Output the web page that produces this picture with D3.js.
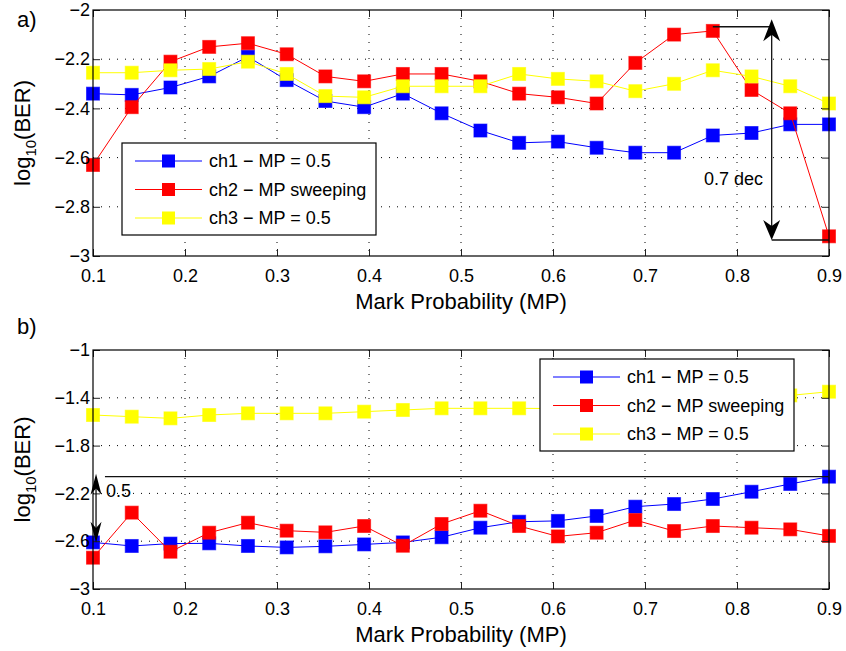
<!DOCTYPE html>
<html>
<head>
<meta charset="utf-8">
<script src="https://cdn.jsdelivr.net/npm/d3@7"></script>
<style>
	body { margin: 0; background: #fff; }
	svg { font-family: "Liberation Sans", Arial, Helvetica, sans-serif; display: block; }
</style>
</head>
<body>
<div id="wrapper"></div>
<script>
// mark probability of the 20 measurement points
const markProb = [0.1, 0.1421, 0.1842, 0.2263, 0.2684, 0.3105, 0.3526, 0.3947, 0.4368, 0.4789,
	0.5211, 0.5632, 0.6053, 0.6474, 0.6895, 0.7316, 0.7737, 0.8158, 0.8579, 0.9];

// panel a)
const aCh1 = [-2.34, -2.345, -2.315, -2.27, -2.19, -2.285, -2.37, -2.395, -2.34, -2.42,
	-2.49, -2.54, -2.535, -2.56, -2.58, -2.58, -2.51, -2.50, -2.465, -2.465];
const aCh2 = [-2.63, -2.395, -2.21, -2.15, -2.135, -2.18, -2.27, -2.29, -2.26, -2.26,
	-2.29, -2.34, -2.355, -2.38, -2.215, -2.10, -2.085, -2.325, -2.42, -2.92];
const aCh3 = [-2.255, -2.255, -2.245, -2.24, -2.21, -2.26, -2.35, -2.355, -2.31, -2.31,
	-2.31, -2.26, -2.28, -2.29, -2.33, -2.30, -2.245, -2.27, -2.31, -2.38];

// panel b)
const bCh1 = [-2.61, -2.64, -2.62, -2.618, -2.64, -2.652, -2.643, -2.627, -2.61, -2.567,
	-2.487, -2.437, -2.43, -2.389, -2.311, -2.289, -2.247, -2.186, -2.121, -2.06];
const bCh2 = [-2.738, -2.361, -2.688, -2.529, -2.445, -2.512, -2.526, -2.473, -2.638, -2.456,
	-2.345, -2.473, -2.56, -2.529, -2.423, -2.515, -2.473, -2.487, -2.501, -2.556];
const bCh3 = [-1.544, -1.558, -1.572, -1.544, -1.53, -1.53, -1.53, -1.516, -1.502, -1.488,
	-1.488, -1.488, -1.49, -1.48, -1.47, -1.45, -1.43, -1.41, -1.38, -1.349];

const xTicks = [0.1, 0.2, 0.3, 0.4, 0.5, 0.6, 0.7, 0.8, 0.9];
const aYTicks = [-3, -2.8, -2.6, -2.4, -2.2, -2];
const bYTicks = [-3, -2.6, -2.2, -1.8, -1.4, -1];
const seriesNames = ['ch1 \u2212 MP = 0.5', 'ch2 \u2212 MP sweeping', 'ch3 \u2212 MP = 0.5'];
const seriesColors = ['#0000ff', '#ff0000', '#ffff00'];

(() => {
	const width = 846, height = 651;
	const left = 93, right = 829;
	const svg = d3.select('#wrapper').append('svg')
		.attr('width', width)
		.attr('height', height);

	const fmt = d3.format('~g');
	const x = d3.scaleLinear().domain([0.1, 0.9]).range([left, right]);

	// MATLAB style notched arrow head, tip at (0,0) pointing up
	const arrowHead = (g, cx, cy, dir, w, len) => {
		const notch = len * 0.3;
		g.append('path')
			.attr('d', `M0,0 L${w / 2},${len} L0,${len - notch} L${-w / 2},${len} Z`)
			.attr('transform', `translate(${cx},${cy}) rotate(${dir === 'up' ? 0 : 180})`)
			.attr('fill', '#000');
	};

	const drawPanel = (cfg) => {
		const y = d3.scaleLinear().domain(cfg.yDomain).range([cfg.bottom, cfg.top]);
		const g = svg.append('g');

		// dotted grid
		g.selectAll('.vgrid')
			.data(xTicks.slice(1, -1))
			.enter().append('line')
			.attr('x1', (d) => x(d)).attr('x2', (d) => x(d))
			.attr('y1', cfg.top).attr('y2', cfg.bottom)
			.attr('stroke', '#000').attr('stroke-width', 1)
			.attr('stroke-dasharray', '1,7');
		g.selectAll('.hgrid')
			.data(cfg.yTicks.slice(1, -1))
			.enter().append('line')
			.attr('x1', left).attr('x2', right)
			.attr('y1', (d) => y(d)).attr('y2', (d) => y(d))
			.attr('stroke', '#000').attr('stroke-width', 1)
			.attr('stroke-dasharray', '1,7');

		// series: line then markers, drawn one after the other
		const line = d3.line().x((d, i) => x(markProb[i])).y((d) => y(d));
		cfg.series.forEach((values, s) => {
			g.append('path')
				.datum(values)
				.attr('d', line)
				.attr('fill', 'none')
				.attr('stroke', seriesColors[s])
				.attr('stroke-width', 1);
			g.selectAll('.m' + s)
				.data(values)
				.enter().append('rect')
				.attr('x', (d, i) => x(markProb[i]) - 6.5)
				.attr('y', (d) => y(d) - 6.5)
				.attr('width', 13).attr('height', 13)
				.attr('fill', seriesColors[s])
				.attr('stroke', seriesColors[s])
				.attr('stroke-opacity', 0.6)
				.attr('stroke-width', 1);
		});

		// axes, ticks pointing inward on all four sides
		const axB = g.append('g').attr('transform', `translate(0,${cfg.bottom})`)
			.call(d3.axisBottom(x).tickValues(xTicks).tickSize(-7).tickPadding(13).tickFormat(fmt));
		const axL = g.append('g').attr('transform', `translate(${left},0)`)
			.call(d3.axisLeft(y).tickValues(cfg.yTicks).tickSize(-7).tickPadding(3).tickFormat(fmt));
		const axT = g.append('g').attr('transform', `translate(0,${cfg.top})`)
			.call(d3.axisTop(x).tickValues(xTicks).tickSize(-7).tickFormat(''));
		const axR = g.append('g').attr('transform', `translate(${right},0)`)
			.call(d3.axisRight(y).tickValues(cfg.yTicks).tickSize(-7).tickFormat(''));
		[axB, axL, axT, axR].forEach((ax) => {
			ax.select('.domain').remove();
			ax.selectAll('line').attr('stroke', '#222');
			ax.selectAll('text').attr('font-size', 18).attr('fill', '#000')
				.attr('font-family', '"Liberation Sans", Arial, sans-serif');
		});

		g.append('rect')
			.attr('x', left).attr('y', cfg.top)
			.attr('width', right - left).attr('height', cfg.bottom - cfg.top)
			.attr('fill', 'none').attr('stroke', '#000').attr('stroke-width', 1.2);

		// axis labels
		g.append('text')
			.attr('x', (left + right) / 2).attr('y', cfg.bottom + 53)
			.attr('text-anchor', 'middle').attr('font-size', 22)
			.text('Mark Probability (MP)');
		const yl = g.append('text')
			.attr('transform', `translate(30,${(cfg.top + cfg.bottom) / 2}) rotate(-90)`)
			.attr('text-anchor', 'middle').attr('font-size', 22);
		yl.append('tspan').text('log');
		yl.append('tspan').attr('font-size', 15).attr('dy', 6).text('10');
		yl.append('tspan').attr('dy', -6).text('(BER)');

		g.append('text')
			.attr('x', 17).attr('y', cfg.top + cfg.labelDy)
			.attr('font-size', 22).text(cfg.label);

		// legend
		const lg = g.append('g').attr('transform', `translate(${cfg.legend[0]},${cfg.legend[1]})`);
		lg.append('rect')
			.attr('width', 254).attr('height', 92)
			.attr('fill', '#fff').attr('stroke', '#000').attr('stroke-width', 1.2);
		const item = lg.selectAll('.item')
			.data(seriesNames)
			.enter().append('g')
			.attr('transform', (d, i) => `translate(0,${18 + i * 28.5})`);
		item.append('line')
			.attr('x1', 13).attr('x2', 80)
			.attr('stroke', (d, i) => seriesColors[i]).attr('stroke-width', 1.2);
		item.append('rect')
			.attr('x', 40).attr('y', -6.5).attr('width', 13).attr('height', 13)
			.attr('fill', (d, i) => seriesColors[i]);
		item.append('text')
			.attr('x', 87).attr('dy', '0.35em')
			.attr('font-size', 18).text((d) => d);

		return { g, y };
	};

	const pa = drawPanel({
		top: 10, bottom: 256, yDomain: [-3, -2], yTicks: aYTicks,
		series: [aCh1, aCh2, aCh3], label: 'a)', labelDy: 17, legend: [122, 143]
	});
	const pb = drawPanel({
		top: 350, bottom: 589, yDomain: [-3, -1], yTicks: bYTicks,
		series: [bCh1, bCh2, bCh3], label: 'b)', labelDy: -16, legend: [540, 359]
	});

	// annotation a): 0.7 dec
	const ax0 = x(0.8377);
	const ann = pa.g.append('g').attr('stroke', '#111').attr('stroke-width', 1.3);
	ann.append('line').attr('x1', x(markProb[16])).attr('x2', ax0)
		.attr('y1', pa.y(-2.068)).attr('y2', pa.y(-2.068));
	ann.append('line').attr('x1', ax0).attr('x2', x(0.9))
		.attr('y1', pa.y(-2.935)).attr('y2', pa.y(-2.935));
	ann.append('line').attr('x1', ax0).attr('x2', ax0)
		.attr('y1', pa.y(-2.038) + 10).attr('y2', pa.y(-2.935) - 10);
	arrowHead(pa.g, ax0, pa.y(-2.038), 'up', 17, 22);
	arrowHead(pa.g, ax0, pa.y(-2.935), 'down', 17, 20);
	pa.g.append('text')
		.attr('x', 763).attr('y', 185)
		.attr('text-anchor', 'end').attr('font-size', 18)
		.text('0.7 dec');

	// annotation b): 0.5
	const bx0 = x(0.1033);
	const annB = pb.g.append('g').attr('stroke', '#111').attr('stroke-width', 1.3);
	annB.append('line').attr('x1', x(0.113)).attr('x2', x(0.9))
		.attr('y1', pb.y(-2.06)).attr('y2', pb.y(-2.06));
	annB.append('line').attr('x1', bx0).attr('x2', bx0)
		.attr('y1', pb.y(-2.035) + 10).attr('y2', pb.y(-2.612) - 10);
	arrowHead(pb.g, bx0, pb.y(-2.035), 'up', 11, 21);
	arrowHead(pb.g, bx0, pb.y(-2.612), 'down', 11, 21);
	pb.g.append('text')
		.attr('x', 106).attr('y', pb.y(-2.06) + 20)
		.attr('font-size', 18)
		.text('0.5');
})();
</script>
</body>
</html>
